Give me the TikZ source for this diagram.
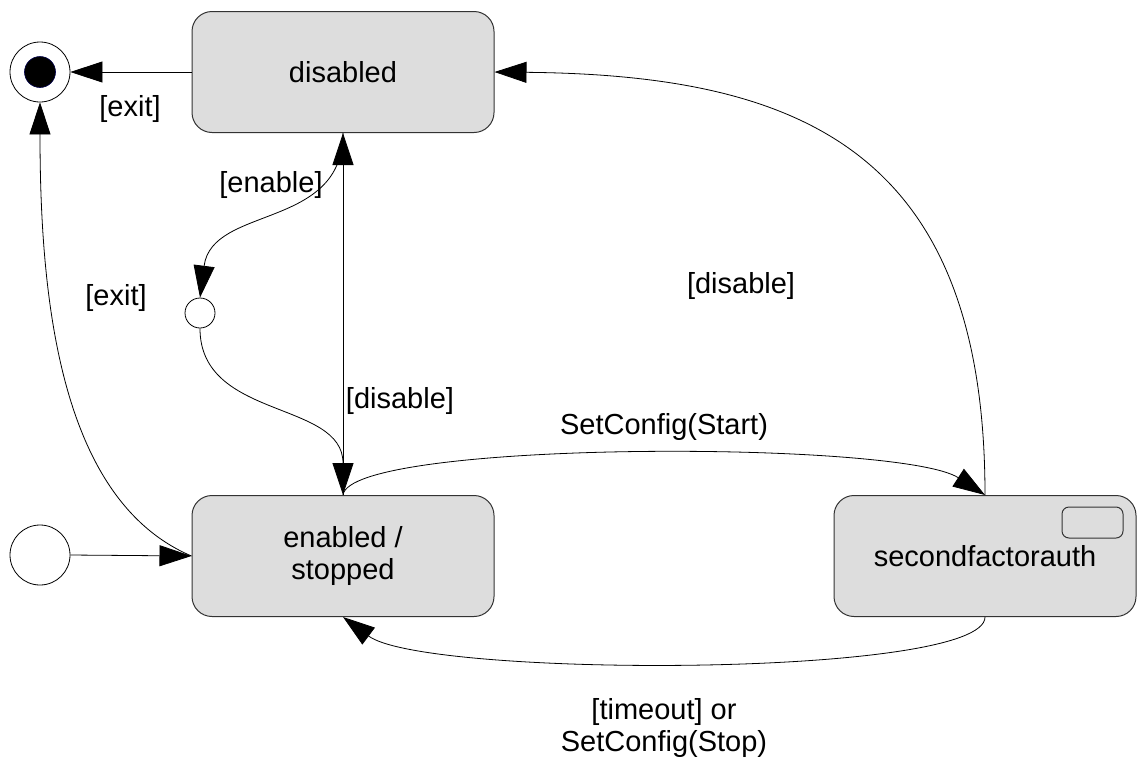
\documentclass[tikz,border=0pt]{standalone}
\usepackage{fontspec}
\setmainfont{Liberation Sans}
\usetikzlibrary{arrows.meta}
\definecolor{stategray}{HTML}{DDDDDD}
\definecolor{edgegray}{HTML}{333333}
\begin{document}
\begin{tikzpicture}[x=1pt,y=-1pt,
  every node/.style={font=\fontsize{29pt}{32.5pt}\selectfont, inner sep=0pt},
  statebox/.style={draw=edgegray, line width=1pt, fill=stategray, rounded corners=20pt,
    minimum width=302pt, minimum height=121pt, align=center},
  pseudo/.style={draw=black, line width=0.8pt, fill=white, circle},
  lbl/.style={align=center},
  trans/.style={draw=black, line width=0.8pt, -{Triangle[length=32pt,width=21pt]}},
  plain/.style={draw=black, line width=0.8pt}
]
\useasboundingbox (0,0) rectangle (1137,758);

% states
\node[statebox] (dis) at (343,72) {disabled};
\node[statebox] (en) at (343,556) {enabled /\\stopped};
\node[statebox] (sfa) at (985,556) {secondfactorauth};
\draw[draw=edgegray, line width=1pt, rounded corners=7pt] (1062,507) rectangle (1123,538);

% pseudo states
\node[pseudo, minimum size=60pt] (fin) at (40,72) {};
\node[circle, fill=black, draw=black!70!blue, line width=0.6pt, minimum size=31pt] (fininner) at (40,72) {};
\node[pseudo, minimum size=60pt] (ini) at (40,555) {};
\node[pseudo, minimum size=30pt] (junc) at (200,313) {};

% transitions
\draw[trans] (dis.west) -- (fin.east);
\draw[trans] (ini.east) -- (en.west);
\draw[trans] (en.west) .. controls (60,500) and (40,300) .. (fin.south);
\draw[trans] (en.north) -- (dis.south);
\draw[trans] (dis.south) .. controls (343,230) and (212,205) .. (junc.north);
\draw[trans] (junc.south) .. controls (200,420) and (343,400) .. (en.north);
\draw[trans] (en.north) .. controls (350,440) and (900,440) .. (sfa.north);
\draw[trans] (sfa.north) .. controls (985,150) and (800,75) .. (dis.east);
\draw[trans] (sfa.south) .. controls (985,678) and (425,678) .. (en.south);

% labels
\node[lbl] (lexit1) at (130,109) {[exit]};
\node[lbl] (lexit2) at (116,298) {[exit]};
\node[lbl] (lenable) at (271,185) {[enable]};
\node[lbl] (ldis1) at (400,401) {[disable]};
\node[lbl] (ldis2) at (741,286) {[disable]};
\node[lbl] (lstart) at (664,427) {SetConfig(Start)};
\node[lbl] (lstop) at (664,728) {[timeout] or\\SetConfig(Stop)};
\end{tikzpicture}
\end{document}
